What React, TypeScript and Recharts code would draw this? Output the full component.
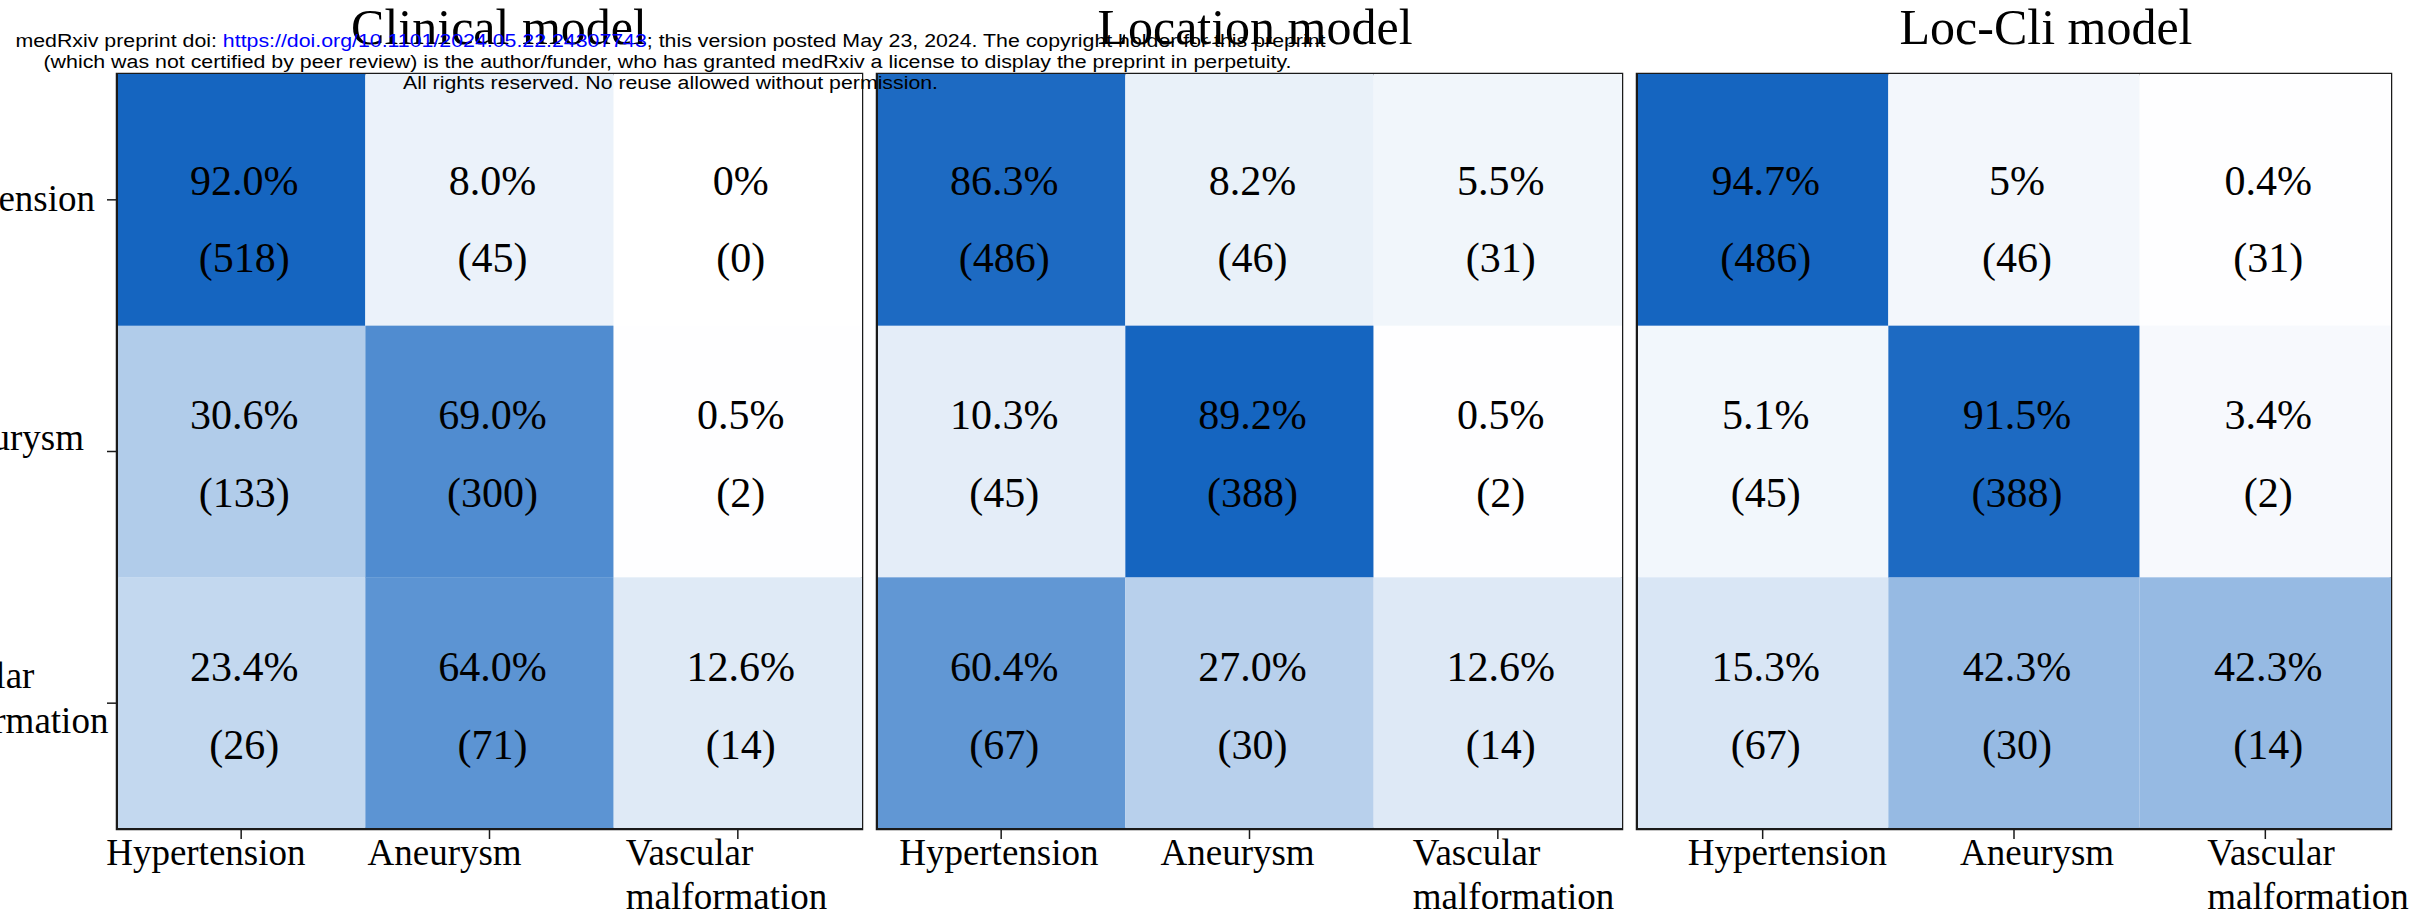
import React from 'react';
import { BarChart, Bar, XAxis, YAxis, ReferenceArea } from 'recharts';

// ---------- data ----------
const classNames = ['Hypertension', 'Aneurysm', 'Vascular\nmalformation'];
const panelTitles = ['Clinical model', 'Location model', 'Loc-Cli model'];

const clinicalPct = [
  ['92.0%', '8.0%', '0%'],
  ['30.6%', '69.0%', '0.5%'],
  ['23.4%', '64.0%', '12.6%'],
];
const clinicalCount = [
  [518, 45, 0],
  [133, 300, 2],
  [26, 71, 14],
];
const locationPct = [
  ['86.3%', '8.2%', '5.5%'],
  ['10.3%', '89.2%', '0.5%'],
  ['60.4%', '27.0%', '12.6%'],
];
const locationCount = [
  [486, 46, 31],
  [45, 388, 2],
  [67, 30, 14],
];
const locCliPct = [
  ['94.7%', '5%', '0.4%'],
  ['5.1%', '91.5%', '3.4%'],
  ['15.3%', '42.3%', '42.3%'],
];
const locCliCount = [
  [486, 46, 31],
  [45, 388, 2],
  [67, 30, 14],
];

const wmLine1a = 'medRxiv preprint doi: ';
const wmLink = 'https://doi.org/10.1101/2024.05.22.24307743';
const wmLine1b = '; this version posted May 23, 2024. The copyright holder for this preprint';
const wmLine2 = '(which was not certified by peer review) is the author/funder, who has granted medRxiv a license to display the preprint in perpetuity.';
const wmLine3 = 'All rights reserved. No reuse allowed without permission.';

// ---------- style / layout ----------
const SERIF = '"Liberation Serif", "Times New Roman", Times, serif';
const SANS = '"Liberation Sans", Arial, Helvetica, sans-serif';
const BORDER = '#1a1a1a';
const HIGH = [21, 101, 192];
const PCT_DY = [-19, -37, -36];
const CNT_DY = [58, 41, 42];
const Y_LABEL = [
  { anchor: 'end', dx: -12, dys: [11] },
  { anchor: 'end', dx: -23, dys: [-2] },
  { anchor: 'start', dx: -200, dys: [-15, 30] },
];

const panels = [
  { title: panelTitles[0], pct: clinicalPct, count: clinicalCount, left: 0, width: 870, yw: 117, mr: 8, yLabels: true, xShift: [-135, -122, -112], titleX: 499 },
  { title: panelTitles[1], pct: locationPct, count: locationCount, left: 864, width: 766, yw: 13, mr: 8, yLabels: false, xShift: [-102, -89, -85], titleX: 1255 },
  { title: panelTitles[2], pct: locCliPct, count: locCliCount, left: 1624, width: 811, yw: 13, mr: 44, yLabels: false, xShift: [-75, -54, -58], titleX: 2046 },
];

const rows = classNames.map((name) => ({ name, c0: 1, c1: 1, c2: 1 }));

function cellColor(v: number, max: number) {
  const t = max > 0 ? Math.max(0, Math.min(1, v / max)) : 0;
  const c = HIGH.map((h) => Math.round(255 + (h - 255) * t));
  return `rgb(${c[0]},${c[1]},${c[2]})`;
}

function makeShape(panel: any, col: number) {
  const max = Math.max(...panel.pct.flat().map((s: string) => parseFloat(s)));
  return (props: any) => {
    const { x, y, width, height } = props;
    let index = props.index;
    if (index === undefined || index === null) index = classNames.indexOf(props.payload?.name);
    const label = panel.pct[index][col];
    const v = parseFloat(label);
    const cx = x + width / 2 + 3;
    const cy = y + height / 2;
    return (
      <g>
        <rect x={x} y={y} width={width} height={height} fill={cellColor(v, max)} />
        <text x={cx} y={cy + PCT_DY[index]} textAnchor="middle" dominantBaseline="central" fontSize={42} fontFamily={SERIF} fill="#000">
          {label}
        </text>
        <text x={cx} y={cy + CNT_DY[index]} textAnchor="middle" dominantBaseline="central" fontSize={42} fontFamily={SERIF} fill="#000">
          {`(${panel.count[index][col]})`}
        </text>
      </g>
    );
  };
}

function makeXTick(shifts: number[]) {
  return (props: any) => {
    const { x, y, payload } = props;
    const i = Math.floor(payload.value);
    const lines = classNames[i].split('\n');
    return (
      <g>
        {lines.map((l, k) => (
          <text key={k} x={x + shifts[i]} y={y + 26 + k * 44} textAnchor="start" fontSize={37} fontFamily={SERIF} fill="#000">
            {l}
          </text>
        ))}
      </g>
    );
  };
}

const YTick = (props: any) => {
  const { x, y, payload } = props;
  const i = classNames.indexOf(payload.value);
  if (i < 0) return null;
  const lay = Y_LABEL[i];
  const lines = classNames[i].split('\n');
  return (
    <g>
      {lines.map((l, k) => (
        <text key={k} x={x + lay.dx} y={y + lay.dys[k]} textAnchor={lay.anchor as any} fontSize={37} fontFamily={SERIF} fill="#000">
          {l}
        </text>
      ))}
    </g>
  );
};

function Panel({ panel }: { panel: any }) {
  const axisLine = { stroke: BORDER, strokeWidth: 2, strokeLinecap: 'square' };
  const tickLine = { stroke: BORDER, strokeWidth: 1.5 };
  return (
    <div style={{ position: 'absolute', left: panel.left, top: 0 }}>
      <BarChart
        layout="vertical"
        width={panel.width}
        height={915}
        data={rows}
        margin={{ top: 74, right: panel.mr, bottom: 0, left: 0 }}
        barCategoryGap={0}
        barGap={0}
      >
        <XAxis
          xAxisId="b"
          type="number"
          domain={[0, 3]}
          ticks={[0.5, 1.5, 2.5]}
          interval={0}
          height={86}
          tickSize={10}
          tickMargin={0}
          axisLine={axisLine}
          tickLine={tickLine}
          tick={makeXTick(panel.xShift)}
        />
        <YAxis
          yAxisId="l"
          type="category"
          dataKey="name"
          width={panel.yw}
          tickSize={10}
          tickMargin={0}
          interval={0}
          axisLine={axisLine}
          tickLine={tickLine}
          tick={panel.yLabels ? YTick : false}
        />
        {[0, 1, 2].map((col) => (
          <Bar
            key={col}
            xAxisId="b"
            yAxisId="l"
            dataKey={`c${col}`}
            stackId="s"
            isAnimationActive={false}
            shape={makeShape(panel, col)}
          />
        ))}
        <ReferenceArea
          xAxisId="b"
          yAxisId="l"
          x1={0}
          x2={3}
          y1={classNames[0]}
          y2={classNames[2]}
          fill="none"
          fillOpacity={0}
          stroke={BORDER}
          strokeWidth={2.5}
          strokeOpacity={1}
          ifOverflow="visible"
        />
      </BarChart>
    </div>
  );
}

export default function App() {
  return (
    <div style={{ position: 'absolute', left: 0, top: 0, width: 2435, height: 915, overflow: 'hidden', background: '#fff' }}>
      {panels.map((p, i) => (
        <Panel key={i} panel={p} />
      ))}
      <svg width={2435} height={915} style={{ position: 'absolute', left: 0, top: 0, pointerEvents: 'none' }}>
        {panels.map((p, i) => (
          <text key={i} x={p.titleX} y={44} textAnchor="middle" fontSize={50} fontFamily={SERIF} fill="#000">
            {p.title}
          </text>
        ))}
        <text x={15.5} y={47} fontSize={18} fontFamily={SANS} fill="#000" textLength={1310} lengthAdjust="spacingAndGlyphs">
          <tspan>{wmLine1a}</tspan>
          <tspan fill="#0000ff">{wmLink}</tspan>
          <tspan>{wmLine1b}</tspan>
        </text>
        <text x={43.5} y={68} fontSize={18} fontFamily={SANS} fill="#000" textLength={1248} lengthAdjust="spacingAndGlyphs">
          {wmLine2}
        </text>
        <text x={403} y={89} fontSize={18} fontFamily={SANS} fill="#000" textLength={535} lengthAdjust="spacingAndGlyphs">
          {wmLine3}
        </text>
      </svg>
    </div>
  );
}
